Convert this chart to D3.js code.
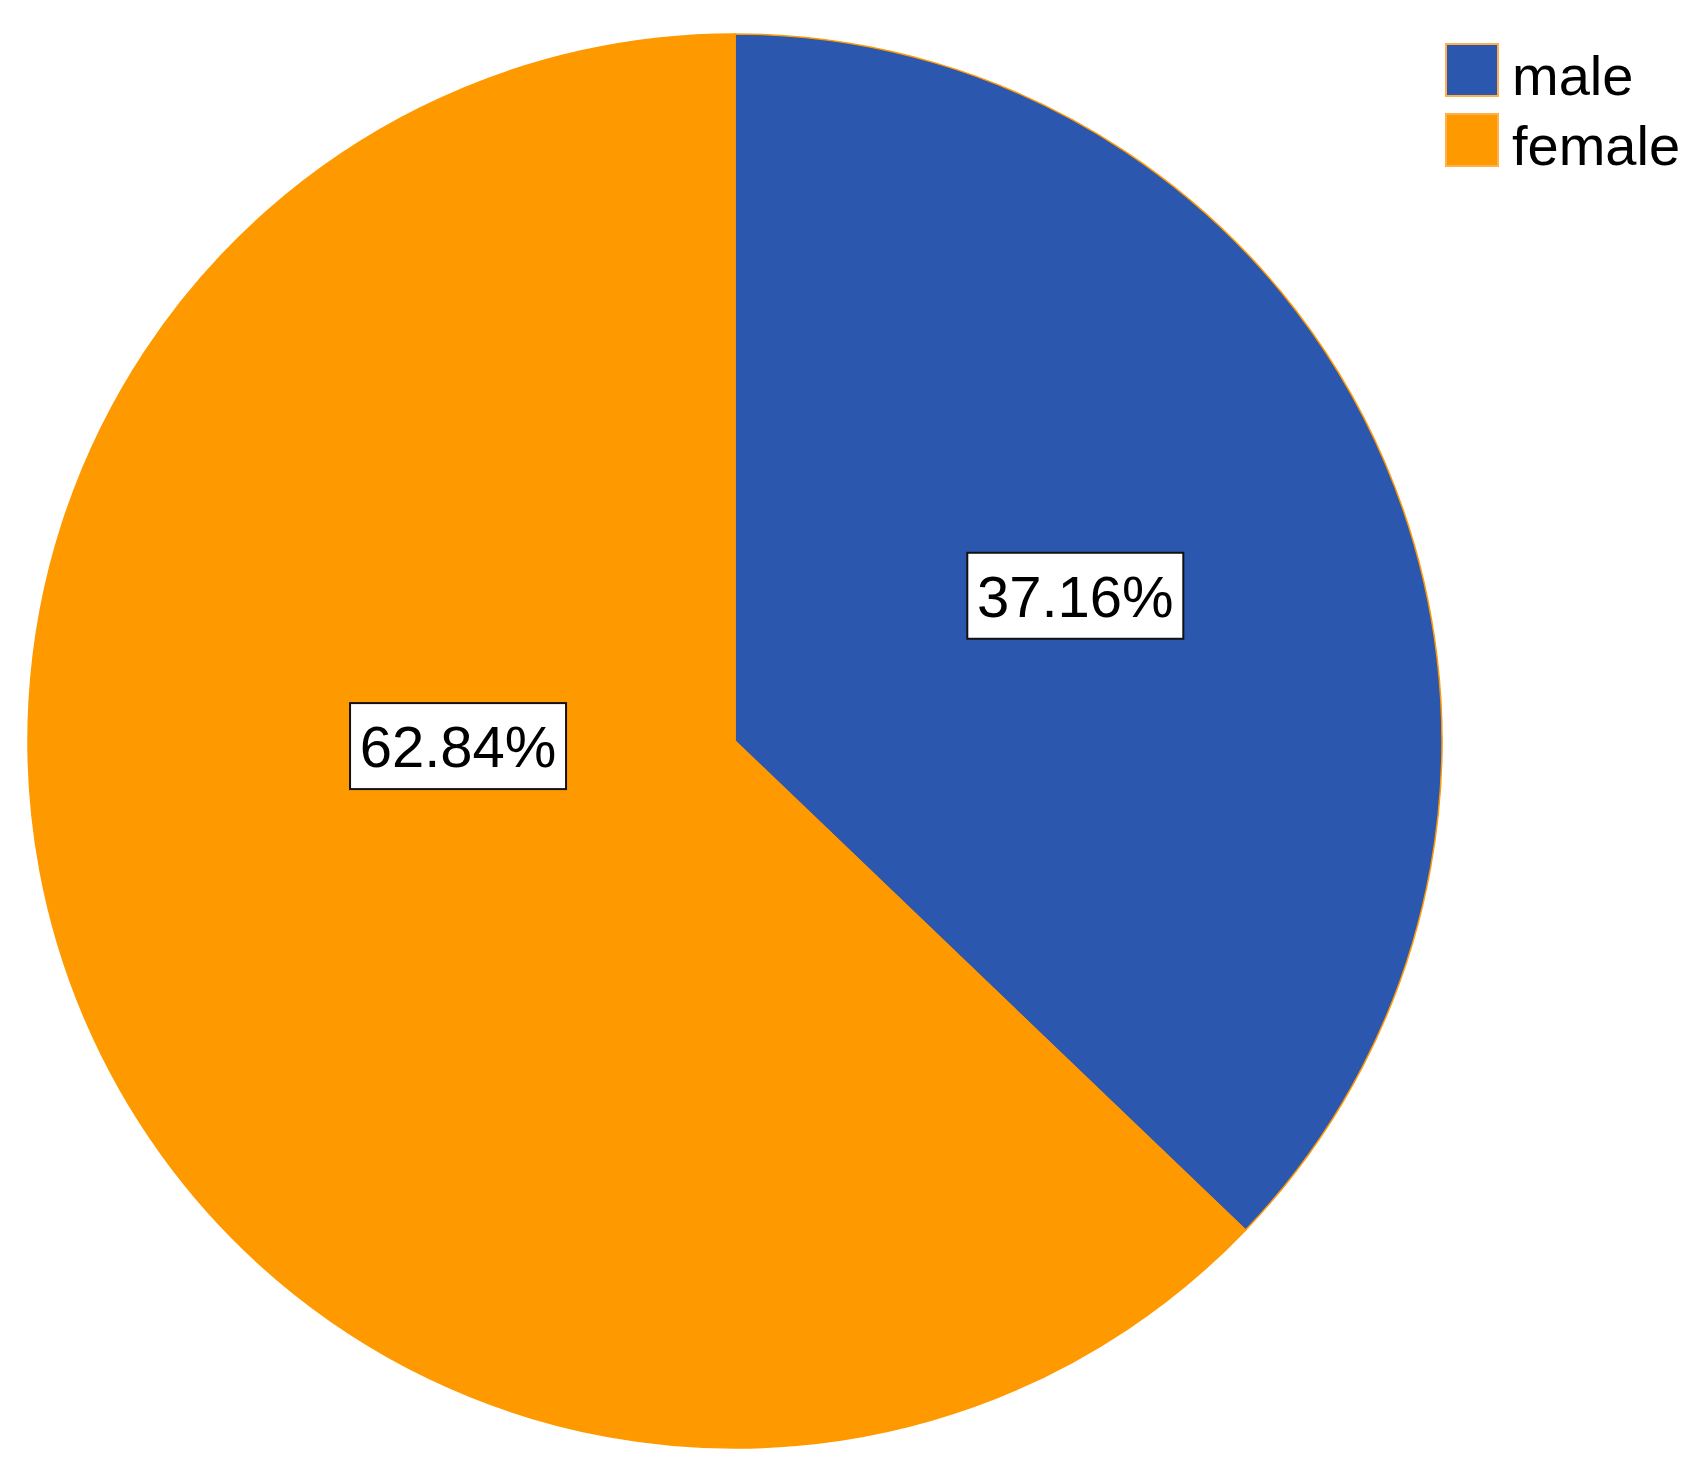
<!DOCTYPE html>
<html>
<head>
<meta charset="utf-8">
<script src="https://cdn.jsdelivr.net/npm/d3@7"></script>
<style>
  html, body { margin: 0; padding: 0; background: #fff; }
  svg text { font-family: "Liberation Sans", Arial, sans-serif; }
</style>
</head>
<body>
<div id="chart"></div>
<script>
"use strict";

// categories and their shares (percent)
var categories = ["male", "female"];
var shares = [37.16, 62.84];
var sliceColors = ["#2c57ae", "#ff9900"];

var width = 1708,
    height = 1474;

// pie geometry
var cx = 735,
    cy = 741,
    radius = 707;

var svg = d3.select("#chart").append("svg")
  .attr("width", width)
  .attr("height", height);

var color = d3.scaleOrdinal().domain(categories).range(sliceColors);

var pie = d3.pie().sort(null).value(function (d) { return d.value; });
var arc = d3.arc().innerRadius(0).outerRadius(radius);

var data = categories.map(function (c, i) {
  return { name: c, value: shares[i] };
});
var arcs = pie(data);

var g = svg.append("g").attr("transform", "translate(" + cx + "," + cy + ")");

g.selectAll("path.slice")
  .data(arcs)
  .enter()
  .append("path")
  .attr("class", "slice")
  .attr("d", arc)
  .attr("fill", function (d) { return color(d.data.name); })
  .attr("stroke", "#ff9900")
  .attr("stroke-width", 1.5);

// label placement: radius / angle tweak per slice (SPSS-ish placement)
var labelRadius = [370, 277];
function labelAngle(d, i) {
  var mid = (d.startAngle + d.endAngle) / 2;
  // larger slice label gets pulled toward horizontal
  return i === 1 ? mid + 0.385 : mid;
}

var fmt = function (v) { return v.toFixed(2) + "%"; };

var labels = g.selectAll("g.label")
  .data(arcs)
  .enter()
  .append("g")
  .attr("class", "label")
  .attr("transform", function (d, i) {
    var a = labelAngle(d, i);
    var x = Math.sin(a) * labelRadius[i];
    var y = -Math.cos(a) * labelRadius[i];
    return "translate(" + x + "," + y + ")";
  });

labels.append("rect")
  .attr("x", -108)
  .attr("y", -43)
  .attr("width", 216)
  .attr("height", 86)
  .attr("fill", "#fff")
  .attr("stroke", "#111")
  .attr("stroke-width", 2);

labels.append("text")
  .attr("text-anchor", "middle")
  .attr("y", 21)
  .attr("font-size", 58)
  .attr("fill", "#000")
  .text(function (d) { return fmt(d.data.value); });

// legend
var legend = svg.append("g").attr("transform", "translate(1445,43)");
var legendItems = legend.selectAll("g.item")
  .data(categories)
  .enter()
  .append("g")
  .attr("class", "item")
  .attr("transform", function (d, i) { return "translate(0," + (i * 70) + ")"; });

legendItems.append("rect")
  .attr("x", 1)
  .attr("y", 1)
  .attr("width", 52)
  .attr("height", 52)
  .attr("fill", function (d) { return color(d); })
  .attr("stroke", "#ffb04a")
  .attr("stroke-width", 2);

legendItems.append("text")
  .attr("x", 67)
  .attr("y", 52)
  .attr("font-size", 56)
  .attr("fill", "#000")
  .text(function (d) { return d; });
</script>
</body>
</html>
